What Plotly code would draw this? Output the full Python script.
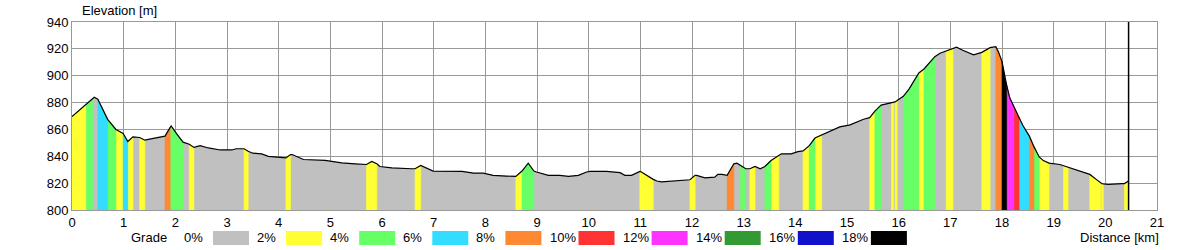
import plotly.graph_objects as go

# ---------------- data ----------------
# profile vertices: distance [km] and elevation [m]
dist = [0.00, 0.28, 0.40, 0.43, 0.50, 0.69, 0.85, 0.99, 1.08, 1.18, 1.31, 1.41, 1.60, 1.80,
        1.90, 1.92, 2.03, 2.15, 2.27, 2.36, 2.48, 2.64, 2.87, 3.09, 3.18, 3.33, 3.41, 3.50,
        3.67, 3.80, 4.14, 4.23, 4.26, 4.48, 4.90, 5.22, 5.48, 5.70, 5.80, 5.90, 5.96, 6.19,
        6.57, 6.64, 6.75, 6.99, 7.55, 7.77, 7.96, 8.15, 8.41, 8.59, 8.71, 8.83, 8.94, 8.99,
        9.22, 9.44, 9.61, 9.80, 9.96, 10.03, 10.35, 10.61, 10.70, 10.83, 10.99, 11.02, 11.25,
        11.32, 11.41, 11.90, 11.96, 12.06, 12.09, 12.25, 12.44, 12.50, 12.58, 12.68, 12.81,
        12.87, 12.94, 13.04, 13.12, 13.22, 13.32, 13.41, 13.53, 13.68, 13.73, 13.92, 14.05,
        14.15, 14.27, 14.38, 14.51, 14.67, 14.86, 15.06, 15.32, 15.44, 15.54, 15.66, 15.86,
        15.90, 15.93, 15.97, 16.09, 16.20, 16.39, 16.49, 16.70, 16.80, 16.92, 17.05, 17.12,
        17.24, 17.45, 17.61, 17.77, 17.88, 17.93, 18.00, 18.06, 18.09, 18.15, 18.23, 18.33,
        18.41, 18.53, 18.62, 18.72, 18.80, 18.91, 19.12, 19.19, 19.28, 19.45, 19.70, 19.83,
        19.91, 19.93, 19.96, 20.06, 20.32, 20.37, 20.45]
elev = [869.5, 878.6, 882.5, 884.0, 882.5, 867.5, 860.0, 857.0, 851.0, 854.5, 854.0, 852.0,
        853.5, 855.0, 861.5, 862.6, 856.5, 850.5, 849.0, 846.6, 847.9, 846.2, 844.7, 844.7,
        845.6, 845.6, 843.7, 842.3, 841.8, 840.0, 838.8, 841.3, 841.3, 837.6, 836.9, 835.1,
        834.4, 833.9, 836.1, 834.4, 832.4, 831.4, 830.7, 830.7, 833.2, 829.0, 828.7, 827.5,
        827.5, 825.8, 825.3, 825.0, 829.0, 834.9, 829.0, 828.3, 825.8, 825.8, 825.0, 825.8,
        828.3, 828.7, 828.7, 827.8, 825.8, 825.8, 828.7, 828.3, 822.8, 821.6, 820.9, 822.1,
        822.5, 825.8, 825.8, 824.0, 824.5, 826.5, 826.5, 825.8, 834.4, 834.9, 833.2, 830.7,
        830.7, 832.4, 830.7, 832.4, 836.8, 840.5, 841.8, 841.8, 843.5, 844.0, 847.9, 853.6,
        856.0, 859.0, 861.9, 863.4, 867.6, 868.8, 873.7, 878.1, 879.5, 880.0, 880.5, 881.5,
        884.7, 890.0, 902.0, 905.0, 914.2, 916.7, 918.4, 920.4, 921.2, 919.0, 915.5, 917.4,
        920.9, 921.6, 917.9, 910.5, 897.0, 893.0, 883.5, 876.5, 868.8, 862.6, 855.0, 847.0,
        839.5, 836.8, 834.9, 833.9, 833.0, 831.5, 829.5, 826.5, 822.6, 820.0, 819.7, 819.5,
        819.0, 819.7, 819.7, 821.6]
# grade class [%] of the segment ending at each vertex (vertex 1 .. n-1)
seg_grade = [2, 4, 0, 0, 6, 4, 2, 6, 2, 0, 2, 0, 0,
             8, 4, 4, 4, 0, 2, 0, 0, 0, 0,
             0, 0, 2, 0, 0, 0, 0, 2, 0, 0,
             0, 0, 0, 0, 2, 2, 0, 0, 0, 0,
             2, 0, 0, 0, 0, 0, 0, 0, 2, 4,
             4, 0, 0, 0, 0, 0, 0, 0, 0, 0,
             0, 0, 0, 2, 2, 0, 0, 0, 0, 2,
             0, 0, 0, 0, 0, 0, 8, 0, 0, 4,
             0, 2, 0, 0, 4, 2, 0, 0, 0, 0,
             2, 4, 2, 0, 0, 0, 0, 0, 2, 4,
             0, 2, 0, 2, 0, 4, 4, 2, 4, 0,
             0, 2, 0, 0, 0, 0, 2, 0, 8, 8,
             18, 18, 12, 12, 10, 6, 6, 8, 4, 2,
             2, 0, 0, 2, 0, 0, 2, 2, 0, 2,
             0, 0, 0, 2]

grade_labels = ["0%", "2%", "4%", "6%", "8%", "10%", "12%", "14%", "16%", "18%"]
grade_values = [0, 2, 4, 6, 8, 10, 12, 14, 16, 18]
grade_colors = ["#C0C0C0", "#FFFF33", "#66FF66", "#33DDFF", "#FF8833",
                "#FF3333", "#FF33FF", "#339933", "#1111CC", "#000000"]

x_ticks = list(range(0, 22))
y_ticks = list(range(800, 941, 20))

# ---------------- figure ----------------
Y0 = y_ticks[0]
fig = go.Figure()

# base fill (0% grade colour) under the whole profile
fig.add_trace(go.Scatter(
    x=[dist[0]] + dist + [dist[-1]], y=[Y0] + elev + [Y0],
    fill="toself", fillcolor=grade_colors[0], mode="lines",
    line=dict(width=0), hoverinfo="skip", showlegend=False))

# coloured bands: one trace per grade class, runs of equal class merged
for gv, col in zip(grade_values[1:], grade_colors[1:]):
    xs, ys = [], []
    i = 0
    n = len(seg_grade)
    while i < n:
        if seg_grade[i] == gv:
            j = i
            while j + 1 < n and seg_grade[j + 1] == gv:
                j += 1
            px_ = [dist[i]] + dist[i:j + 2] + [dist[j + 1], dist[i]]
            py_ = [Y0] + elev[i:j + 2] + [Y0, Y0]
            xs += px_ + [None]
            ys += py_ + [None]
            i = j + 1
        else:
            i += 1
    if xs:
        fig.add_trace(go.Scatter(x=xs, y=ys, fill="toself", fillcolor=col,
                                 mode="lines", line=dict(width=0.6, color=col),
                                 hoverinfo="skip", showlegend=False))

# profile line
fig.add_trace(go.Scatter(x=dist, y=elev, mode="lines",
                         line=dict(color="black", width=1.2),
                         hoverinfo="skip", showlegend=False))
# end marker
fig.add_trace(go.Scatter(x=[dist[-1], dist[-1]], y=[y_ticks[0], y_ticks[-1]],
                         mode="lines", line=dict(color="black", width=1.5),
                         hoverinfo="skip", showlegend=False))

L, R, T, B = 72, 1157, 22, 210
W, H = 1200, 250


def pxx(p):
    return (p - L) / (R - L)


def pxy(p):
    return (B - p) / (B - T)


font = dict(family="Liberation Sans, Arial, sans-serif", size=13, color="black")

annotations = [
    dict(text="Elevation [m]", x=pxx(80), y=pxy(11), xref="paper", yref="paper",
         xanchor="left", yanchor="middle", showarrow=False, font=font),
    dict(text="Distance [km]", x=pxx(1161), y=pxy(237), xref="paper", yref="paper",
         xanchor="right", yanchor="middle", showarrow=False, font=font),
    dict(text="Grade", x=pxx(129), y=pxy(237), xref="paper", yref="paper",
         xanchor="left", yanchor="middle", showarrow=False, font=font),
]
shapes = []
for k, (lab, col) in enumerate(zip(grade_labels, grade_colors)):
    bx = 213 + 73.1 * k
    shapes.append(dict(type="rect", xref="paper", yref="paper",
                       x0=pxx(bx), x1=pxx(bx + 36), y0=pxy(245), y1=pxy(231),
                       fillcolor=col, line=dict(width=0), layer="above"))
    annotations.append(dict(text=lab, x=pxx(bx - 31), y=pxy(237), xref="paper", yref="paper",
                            xanchor="left", yanchor="middle", showarrow=False, font=font))

fig.update_layout(
    width=W, height=H,
    margin=dict(l=L, r=W - R, t=T, b=H - B, pad=0),
    paper_bgcolor="white", plot_bgcolor="white",
    font=font,
    showlegend=False,
    xaxis=dict(range=[x_ticks[0], x_ticks[-1]], tickvals=x_ticks, showgrid=True,
               gridcolor="#999999", gridwidth=1, showline=True, mirror=True,
               linecolor="#999999", linewidth=1, zeroline=False, ticks="",
               tickfont=font, fixedrange=True),
    yaxis=dict(range=[y_ticks[0], y_ticks[-1]], tickvals=y_ticks, showgrid=True,
               gridcolor="#999999", gridwidth=1, showline=True, mirror=True,
               linecolor="#999999", linewidth=1, zeroline=False, ticks="",
               tickfont=font, fixedrange=True),
    annotations=annotations,
    shapes=shapes,
)

fig.write_html("out.html", config={"displayModeBar": False})
